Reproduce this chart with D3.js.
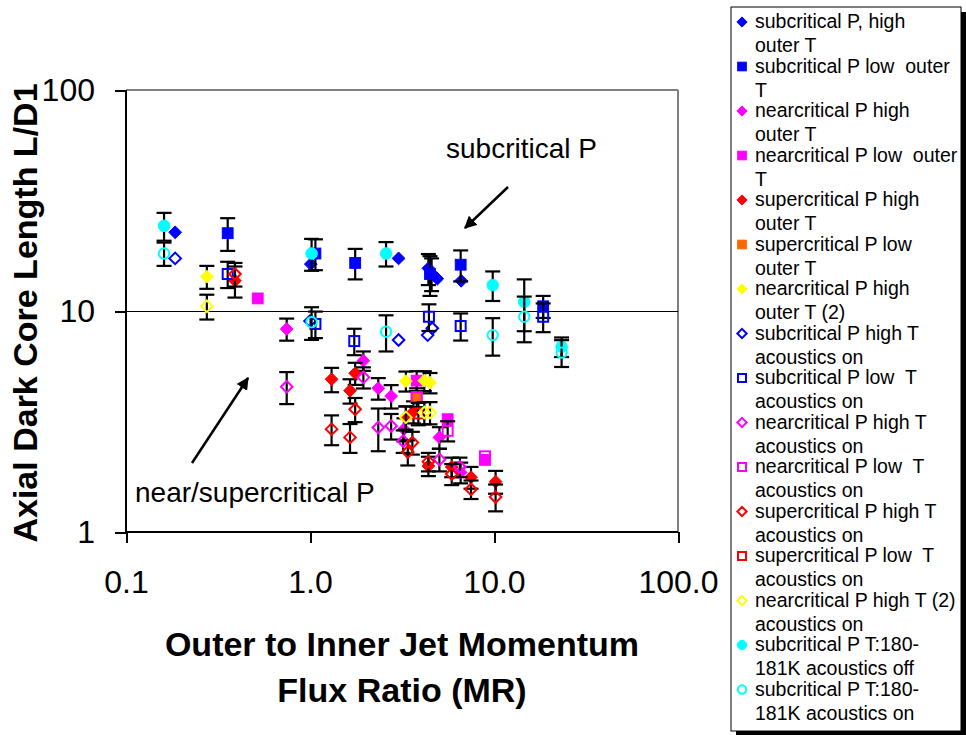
<!DOCTYPE html>
<html>
<head>
<meta charset="utf-8">
<script src="https://cdn.jsdelivr.net/npm/d3@7"></script>
<style>
  html, body { margin: 0; padding: 0; background: #fff; }
  svg { display: block; font-family: "Liberation Sans", Arial, sans-serif; }
  text { white-space: pre; }
</style>
</head>
<body>
<svg id="chart" width="966" height="735"></svg>
<script>
// Momentum flux ratio (MR), dark core length (L/D1) and ± error, per series: [MR, L/D1, err]
const subHighOuter = [[0.185,22.7,0],[1.01,16.3,0],[3.03,17.3,0],[4.40,15.6,2.5],[4.58,14.8,2.5],[4.92,14.0,0],[6.63,13.7,0]];
const subLowOuter = [[0.357,22.5,3.8],[1.07,18.2,2.9],[1.76,16.5,2.6],[4.49,14.7,3.0],[6.59,16.2,2.6],[18.5,10.5,1.2]];
const nearHighOuter = [[0.747,8.29,0.95],[1.95,5.96,0.6],[2.35,4.47,0.5],[2.76,4.12,0.5],[3.24,2.92,0.35],[5.05,2.68,0.3],[6.59,1.86,0.2]];
const nearLowOuter = [[0.52,11.4,0],[3.80,4.84,0.5],[5.60,3.24,0],[8.93,2.12,0]];
const superHighOuter = [[0.391,13.7,2.2],[1.31,4.91,0.62],[1.65,4.36,0.55],[1.76,5.23,0.6],[3.32,3.30,0.4],[3.65,3.50,0.4],[4.40,1.99,0.2],[5.89,1.97,0.2],[7.50,1.77,0.2],[10.2,1.69,0.2]];
const superLowOuter = [[3.80,4.07,0.4]];
const nearHighOuter2 = [[0.275,14.3,1.7],[3.32,4.82,0.5],[4.18,4.84,0.5],[4.49,4.74,0.5]];
const subHighAc = [[0.185,17.3,0],[1.0,9.0,0],[3.03,7.39,0],[4.62,8.35,0],[4.36,7.78,0]];
const subLowAc = [[0.357,14.7,2.0],[1.07,8.74,1.2],[1.74,7.31,1.0],[4.43,9.42,1.3],[6.59,8.55,1.2],[18.5,9.42,1.4]];
const nearHighAc = [[0.747,4.54,0.75],[1.95,5.01,0.55],[2.35,2.97,0.65],[2.76,3.02,0.4],[3.21,2.58,0.3],[5.05,2.13,0.25],[6.53,1.97,0.2]];
const nearLowAc = [[3.80,4.07,0],[5.60,2.87,0.3],[8.93,2.2,0]];
const superHighAc = [[0.391,14.7,1.8],[1.31,2.92,0.45],[1.65,2.68,0.4],[1.76,3.59,0.45],[3.60,2.54,0.3],[3.40,2.30,0.3],[4.40,2.08,0.2],[5.89,1.83,0.2],[7.50,1.56,0.15],[10.2,1.44,0.2]];
const superLowAc = [[3.88,3.44,0.4]];
const nearHighAc2 = [[0.275,10.5,1.35],[3.32,3.30,0.4],[4.18,3.47,0.4],[4.49,3.47,0.4]];
const sub180Off = [[0.161,24.3,3.5],[1.02,18.2,3.0],[2.59,18.2,2.3],[9.84,13.1,2.0],[14.6,11.0,2.9],[23.3,6.89,0.7]];
const sub180On = [[0.161,18.2,2.2],[1.02,8.9,1.5],[2.59,8.06,1.5],[9.84,7.78,1.5],[14.6,9.42,2.2],[23.3,6.48,0.9]];

// Legend labels (two wrapped lines each)
const seriesLabels = [
  ["subcritical P, high", "outer T"],
  ["subcritical P low  outer", "T"],
  ["nearcritical P high", "outer T"],
  ["nearcritical P low  outer", "T"],
  ["supercritical P high", "outer T"],
  ["supercritical P low", "outer T"],
  ["nearcritical P high", "outer T (2)"],
  ["subcritical P high T", "acoustics on"],
  ["subcritical P low  T", "acoustics on"],
  ["nearcritical P high T", "acoustics on"],
  ["nearcritical P low  T", "acoustics on"],
  ["supercritical P high T", "acoustics on"],
  ["supercritical P low  T", "acoustics on"],
  ["nearcritical P high T (2)", "acoustics on"],
  ["subcritical P T:180-", "181K acoustics off"],
  ["subcritical P T:180-", "181K acoustics on"]
];
const seriesData = [subHighOuter, subLowOuter, nearHighOuter, nearLowOuter, superHighOuter, superLowOuter,
  nearHighOuter2, subHighAc, subLowAc, nearHighAc, nearLowAc, superHighAc, superLowAc, nearHighAc2, sub180Off, sub180On];

const xTicks = [0.1, 1, 10, 100];
const xTickLabels = ["0.1", "1.0", "10.0", "100.0"];
const yTicks = [1, 10, 100];
const yTickLabels = ["1", "10", "100"];

// Marker styles, one per series
const seriesStyle = [
  {shape: "diamond", color: "#0000FF", filled: true},
  {shape: "square", color: "#0000FF", filled: true},
  {shape: "diamond", color: "#FF00FF", filled: true},
  {shape: "square", color: "#FF00FF", filled: true},
  {shape: "diamond", color: "#FF0000", filled: true},
  {shape: "square", color: "#FF6600", filled: true},
  {shape: "diamond", color: "#FFFF00", filled: true},
  {shape: "diamond", color: "#0000FF", filled: false},
  {shape: "square", color: "#0000FF", filled: false},
  {shape: "diamond", color: "#FF00FF", filled: false},
  {shape: "square", color: "#FF00FF", filled: false},
  {shape: "diamond", color: "#FF0000", filled: false},
  {shape: "square", color: "#FF0000", filled: false},
  {shape: "diamond", color: "#FFFF00", filled: false},
  {shape: "circle", color: "#00FFFF", filled: true},
  {shape: "circle", color: "#00FFFF", filled: false}
];

const svg = d3.select("#chart");
const plot = {left: 126, right: 678, top: 90, bottom: 532};

const x = d3.scaleLog().domain([0.1, 100]).range([plot.left, plot.right]);
const y = d3.scaleLog().domain([1, 100]).range([plot.bottom, plot.top]);

// Plot frame (grey top/right like the default chart area border)
svg.append("line").attr("x1", plot.left).attr("x2", plot.right).attr("y1", plot.top).attr("y2", plot.top)
  .attr("stroke", "#808080").attr("stroke-width", 2).attr("shape-rendering", "crispEdges");
svg.append("line").attr("x1", plot.right).attr("x2", plot.right).attr("y1", plot.top).attr("y2", plot.bottom)
  .attr("stroke", "#808080").attr("stroke-width", 2).attr("shape-rendering", "crispEdges");

// Horizontal gridline at each inner decade
svg.append("g").selectAll("line").data(yTicks.filter(v => v > 1 && v < 100)).join("line")
  .attr("x1", plot.left).attr("x2", plot.right)
  .attr("y1", d => y(d)).attr("y2", d => y(d))
  .attr("stroke", "#000").attr("stroke-width", 1).attr("shape-rendering", "crispEdges");

// Axes
const xAxis = d3.axisBottom(x).tickValues(xTicks).tickFormat((d, i) => xTickLabels[i]).tickSize(11).tickPadding(27);
const yAxis = d3.axisLeft(y).tickValues(yTicks).tickFormat((d, i) => yTickLabels[i]).tickSize(11).tickPadding(20);

const gx = svg.append("g").attr("transform", `translate(0,${plot.bottom})`).call(xAxis);
const gy = svg.append("g").attr("transform", `translate(${plot.left},0)`).call(yAxis);
[gx, gy].forEach(g => {
  g.select(".domain").attr("stroke", "#000").attr("stroke-width", 2).attr("shape-rendering", "crispEdges");
  g.selectAll(".tick line").attr("stroke", "#000").attr("stroke-width", 2).attr("shape-rendering", "crispEdges");
  g.selectAll(".tick text").attr("font-size", 32).attr("fill", "#000")
    .attr("font-family", "'Liberation Sans', Arial, sans-serif");
});
gx.select(".domain").attr("d", `M${plot.left},0H${plot.right}`);
gy.select(".domain").attr("d", `M0,${plot.bottom}V${plot.top}`);

// Axis titles
svg.append("text").attr("x", 402).attr("y", 656).attr("text-anchor", "middle")
  .attr("font-size", 34).attr("font-weight", "bold").text("Outer to Inner Jet Momentum");
svg.append("text").attr("x", 402).attr("y", 702).attr("text-anchor", "middle")
  .attr("font-size", 34).attr("font-weight", "bold").text("Flux Ratio (MR)");
svg.append("text").attr("transform", "translate(37,313) rotate(-90)").attr("text-anchor", "middle")
  .attr("font-size", 34).attr("font-weight", "bold").text("Axial Dark Core Length L/D1");

// Marker helper
function drawMarker(g, style, cx, cy, scale) {
  const k = scale || 1;
  const fill = style.filled ? style.color : "none";
  const sw = style.filled ? 1 : 2;
  if (style.shape === "diamond") {
    const r = (style.filled ? 6.4 : 5.8) * k;
    g.append("path").attr("d", `M${cx},${cy - r}L${cx + r},${cy}L${cx},${cy + r}L${cx - r},${cy}Z`)
      .attr("fill", fill).attr("stroke", style.color).attr("stroke-width", sw);
  } else if (style.shape === "square") {
    const h = (style.filled ? 5.4 : 5) * k;
    g.append("rect").attr("x", cx - h).attr("y", cy - h).attr("width", 2 * h).attr("height", 2 * h)
      .attr("fill", fill).attr("stroke", style.color).attr("stroke-width", sw);
  } else {
    const r = (style.filled ? 5.8 : 5.2) * k;
    g.append("circle").attr("cx", cx).attr("cy", cy).attr("r", r)
      .attr("fill", fill).attr("stroke", style.color).attr("stroke-width", sw);
  }
}

// Series: error bars under each marker
const marks = svg.append("g");
seriesData.forEach((pts, si) => {
  const g = marks.append("g");
  pts.filter(p => p[2] > 0).forEach(([mr, ld, e]) => {
    const px = x(mr), y0 = y(ld + e), y1 = y(ld - e);
    g.append("line").attr("x1", px).attr("x2", px).attr("y1", y0).attr("y2", y1)
      .attr("stroke", "#000").attr("stroke-width", 2.2);
    [y0, y1].forEach(yy => g.append("line").attr("x1", px - 7.5).attr("x2", px + 7.5).attr("y1", yy).attr("y2", yy)
      .attr("stroke", "#000").attr("stroke-width", 2.2));
  });
  pts.forEach(([mr, ld]) => drawMarker(g, seriesStyle[si], x(mr), y(ld)));
});

// Annotations with arrows
const defs = svg.append("defs");
defs.append("marker").attr("id", "arrowHead").attr("viewBox", "0 0 10 10").attr("refX", 9).attr("refY", 5)
  .attr("markerWidth", 5).attr("markerHeight", 5).attr("orient", "auto")
  .append("path").attr("d", "M0,0L10,5L0,10Z").attr("fill", "#000");

svg.append("text").attr("x", 446).attr("y", 158).attr("font-size", 28).text("subcritical P");
svg.append("line").attr("x1", 508).attr("y1", 187).attr("x2", 465).attr("y2", 228)
  .attr("stroke", "#000").attr("stroke-width", 2.5).attr("marker-end", "url(#arrowHead)");

svg.append("text").attr("x", 135).attr("y", 502).attr("font-size", 28).text("near/supercritical P");
svg.append("line").attr("x1", 192).attr("y1", 463).attr("x2", 248).attr("y2", 378)
  .attr("stroke", "#000").attr("stroke-width", 2.5).attr("marker-end", "url(#arrowHead)");

// Legend box with drop shadow
const lg = {x: 731, y: 7, w: 230, h: 724};
svg.append("rect").attr("x", lg.x + 5).attr("y", lg.y + 5).attr("width", lg.w).attr("height", lg.h).attr("fill", "#000");
svg.append("rect").attr("x", lg.x).attr("y", lg.y).attr("width", lg.w).attr("height", lg.h)
  .attr("fill", "#fff").attr("stroke", "#000").attr("stroke-width", 1);

const legend = svg.append("g");
seriesLabels.forEach((lines, i) => {
  const base = 28 + 44.5 * i;
  drawMarker(legend, seriesStyle[i], 742, base - 6, 0.8);
  lines.forEach((t, j) => legend.append("text").attr("x", 755).attr("y", base + 24 * j)
    .attr("font-size", 19.5).attr("fill", "#000").text(t));
});
</script>
</body>
</html>
